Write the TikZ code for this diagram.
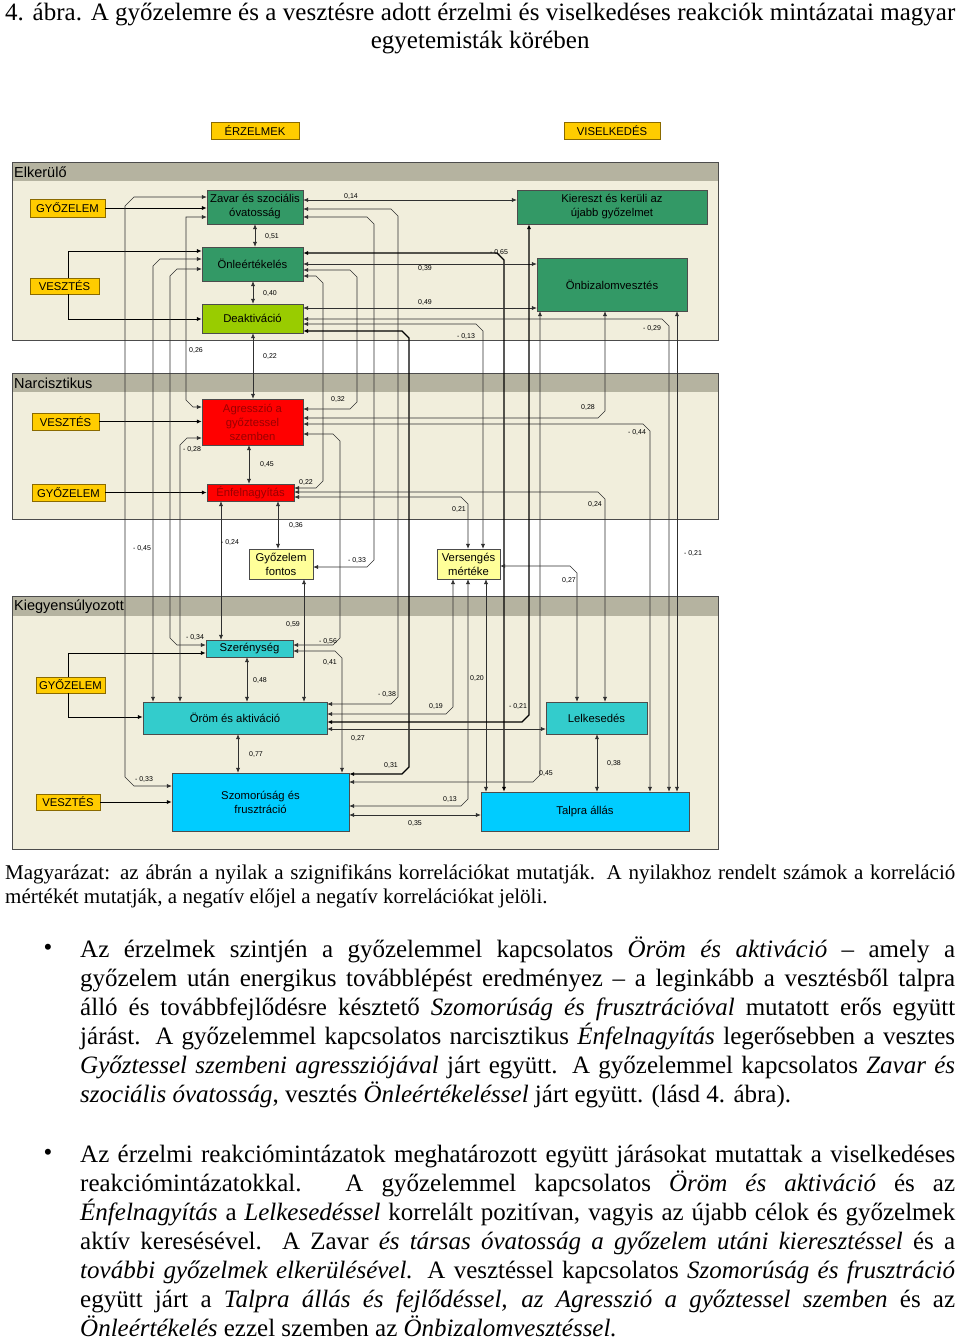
\documentclass[tikz,border=0pt]{standalone}
\usepackage{fontspec}
\setmainfont{Liberation Serif}
\newfontfamily\titlefont{Liberation Serif}
\newfontfamily\pagefont{Liberation Serif}
\newfontfamily\diafont{Liberation Sans}
\usetikzlibrary{arrows.meta,positioning}

\definecolor{panelbg}{HTML}{F1EEDC}
\definecolor{panelhd}{HTML}{B5B3A0}
\definecolor{tagyellow}{HTML}{FFCC00}
\definecolor{tagedge}{HTML}{8A6A00}
\definecolor{darkgreen}{HTML}{339966}
\definecolor{limegreen}{HTML}{99CC00}
\definecolor{alarmred}{HTML}{FF0000}
\definecolor{redtext}{HTML}{9A0000}
\definecolor{paleyellow}{HTML}{FFFF99}
\definecolor{tealbox}{HTML}{33CCCC}
\definecolor{skyblue}{HTML}{00CCFF}
\definecolor{wirecol}{HTML}{303030}

\begin{document}
\begin{tikzpicture}[x=1pt,y=-1pt,
    >={Latex[length=5pt,width=4.2pt]},
    panel/.style={draw=black!70,line width=0.8pt},
    band/.style={fill=panelhd},
    tagbox/.style={draw=tagedge,fill=tagyellow,inner sep=0pt,font=\diafont\fontsize{11.3}{12}\selectfont},
    reaction/.style={draw=black!70,inner sep=0pt,align=center,font=\diafont\fontsize{11.3}{14}\selectfont},
    link/.style={<->,draw=wirecol,line width=0.6pt},
    heavy/.style={<->,draw=black,line width=1.1pt},
    feed/.style={->,draw=black,line width=1pt},
    val/.style={inner sep=0pt,font=\diafont\fontsize{7}{8}\selectfont},
    grouptitle/.style={anchor=west,inner sep=0pt,font=\diafont\fontsize{14.5}{16}\selectfont},
    pagetext/.style={anchor=north west,inner sep=0pt,align=left}
  ]
  \fill[white] (0,0) rectangle (960,1339);
  \useasboundingbox (0,0) rectangle (960,1339);

  % title
  \node[pagetext,font=\titlefont\fontsize{25}{28}\selectfont] (title) at (5,0.7)
    {\makebox[950pt][s]{\rule{0pt}{20pt}4. ábra. A győzelemre és a vesztésre adott érzelmi és viselkedéses reakciók mintázatai magyar}\\
     \makebox[950pt][c]{egyetemisták körében}};

  % column headers
  \node[tagbox,minimum width=88pt,minimum height=17pt] (erz) at (255,130.5) {ÉRZELMEK};
  \node[tagbox,minimum width=96pt,minimum height=17pt] (visel) at (612,130.5) {VISELKEDÉS};

  % group panels
  \fill[panelbg] (12,162) rectangle (718,340);
  \fill[band] (12,162) rectangle (718,181);
  \draw[panel] (12,162) rectangle (718,340);
  \fill[panelbg] (12,373) rectangle (718,519);
  \fill[band] (12,373) rectangle (718,392);
  \draw[panel] (12,373) rectangle (718,519);
  \fill[panelbg] (12,596) rectangle (718,849);
  \fill[band] (12,596) rectangle (718,616);
  \draw[panel] (12,596) rectangle (718,849);
  \node[grouptitle] (elk) at (14,172) {Elkerülő};
  \node[grouptitle] (narc) at (14,383) {Narcisztikus};
  \node[grouptitle] (kiegy) at (14,606.5) {Kiegyensúlyozott};

  % Elkerülő
  \node[tagbox,minimum width=75pt,minimum height=18pt] (gyozA) at (67.5,208) {GYŐZELEM};
  \node[tagbox,minimum width=69pt,minimum height=16pt] (veszA) at (64.5,286) {VESZTÉS};
  \node[reaction,fill=darkgreen,minimum width=96pt,minimum height=34pt] (zavar) at (255,207) {Zavar és szociális\\óvatosság};
  \node[reaction,fill=darkgreen,minimum width=101pt,minimum height=34pt] (onle) at (252.5,264) {Önleértékelés};
  \node[reaction,fill=limegreen,minimum width=101pt,minimum height=29pt] (deakt) at (252.5,318.5) {Deaktiváció};
  \node[reaction,fill=darkgreen,minimum width=190pt,minimum height=34pt] (kiereszt) at (612,207) {Kiereszt és kerüli az\\újabb győzelmet};
  \node[reaction,fill=darkgreen,minimum width=150pt,minimum height=53pt] (onbiz) at (612,284.5) {Önbizalomvesztés};

  % Narcisztikus
  \node[tagbox,minimum width=67pt,minimum height=17pt] (veszB) at (65.5,421.5) {VESZTÉS};
  \node[tagbox,minimum width=73pt,minimum height=17pt] (gyozB) at (68.5,492.5) {GYŐZELEM};
  \node[reaction,fill=alarmred,text=redtext,minimum width=101pt,minimum height=46pt] (agressz) at (252.5,422) {Agresszió a\\győztessel\\szemben};
  \node[reaction,fill=alarmred,text=redtext,minimum width=87pt,minimum height=17pt] (enfel) at (250.5,492.5) {Énfelnagyítás};
  \node[reaction,fill=paleyellow,minimum width=64pt,minimum height=30pt] (gyfontos) at (281,564) {Győzelem\\fontos};
  \node[reaction,fill=paleyellow,minimum width=63pt,minimum height=30pt] (verseng) at (468.5,564) {Versengés\\mértéke};

  % Kiegyensúlyozott
  \node[tagbox,minimum width=69pt,minimum height=16pt] (gyozC) at (70.5,685) {GYŐZELEM};
  \node[tagbox,minimum width=64pt,minimum height=16pt] (veszC) at (68,802) {VESZTÉS};
  \node[reaction,fill=tealbox,minimum width=87pt,minimum height=17pt] (szereny) at (249.5,648.5) {Szerénység};
  \node[reaction,fill=tealbox,minimum width=184pt,minimum height=32pt] (orom) at (235,718) {Öröm és aktiváció};
  \node[reaction,fill=skyblue,minimum width=177pt,minimum height=58pt] (szomor) at (260.5,802) {Szomorúság és\\frusztráció};
  \node[reaction,fill=tealbox,minimum width=101pt,minimum height=32pt] (lelkes) at (596.5,718) {Lelkesedés};
  \node[reaction,fill=skyblue,minimum width=208pt,minimum height=39pt] (talpra) at (585,811.5) {Talpra állás};

  % situation inputs
  \draw[feed] (gyozA.east) -- (zavar.west |- gyozA.east);
  \draw[feed] (veszA.north -| 68,0) -- (68,251) -- (onle.west |- 0,251);
  \draw[feed] (veszA.south -| 68,0) -- (68,319) -- (deakt.west |- 0,319);
  \draw[feed] (veszB.east) -- (agressz.west |- veszB.east);
  \draw[feed] (gyozB.east) -- (enfel.west |- gyozB.east);
  \draw[feed] (gyozC.north -| 68,0) -- (68,653) -- (szereny.west |- 0,653);
  \draw[feed] (gyozC.south -| 68,0) -- (68,717) -- (orom.west |- 0,717);
  \draw[feed] (veszC.east) -- (szomor.west |- veszC.east);

  % correlations from Elkerülő
  \draw[link] (zavar.south -| 255,0) -- (onle.north -| 255,0);
  \draw[link] (onle.south -| 253,0) -- (deakt.north -| 253,0);
  \draw[link] (zavar.east |- 0,200) -- (kiereszt.west |- 0,200);
  \draw[link] (zavar.east |- 0,209) -- (391,209) -- (398,216) -- (398,697) -- (391,704) -- (orom.east |- 0,704);
  \draw[link] (zavar.east |- 0,217) -- (367,217) -- (374,224) -- (374,560) -- (367,567) -- (gyfontos.east |- 0,567);
  \draw[link] (zavar.west |- 0,197) -- (134,197) -- (125,206) -- (125,777) -- (134,786) -- (szomor.west |- 0,786);
  \draw[link] (zavar.west |- 0,217) -- (186,217) -- (186,400) -- (193,407) -- (agressz.west |- 0,407);
  \draw[link] (onle.west |- 0,259) -- (160,259) -- (153,266) -- (orom.north -| 153,0);
  \draw[link] (onle.west |- 0,269) -- (177,269) -- (170,276) -- (170,638) -- (177,645) -- (szereny.west |- 0,645);
  \draw[heavy] (onle.east |- 0,253) -- (497,253) -- (504,260) -- (talpra.north -| 504,0);
  \draw[link] (onle.east |- 0,264) -- (onbiz.west |- 0,264);
  \draw[link] (onle.east |- 0,270) -- (350,270) -- (357,277) -- (357,402) -- (350,409) -- (agressz.east |- 0,409);
  \draw[link] (onle.east |- 0,276) -- (316,276) -- (323,283) -- (323,481) -- (316,488) -- (enfel.east |- 0,488);
  \draw[link] (deakt.east |- 0,308) -- (onbiz.west |- 0,308);
  \draw[link] (deakt.east |- 0,319) -- (662,319) -- (669,326) -- (talpra.north -| 669,0);
  \draw[link] (deakt.east |- 0,324) -- (476,324) -- (483,331) -- (verseng.north -| 483,0);
  \draw[heavy] (deakt.east |- 0,331) -- (402,331) -- (409,338) -- (409,767) -- (402,774) -- (szomor.east |- 0,774);
  \draw[link] (deakt.south -| 253,0) -- (agressz.north -| 253,0);

  % correlations from Narcisztikus
  \draw[link] (agressz.south -| 249,0) -- (enfel.north -| 249,0);
  \draw[link] (agressz.west |- 0,438) -- (187,438) -- (180,445) -- (orom.north -| 180,0);
  \draw[link] (agressz.east |- 0,418) -- (598,418) -- (605,411) -- (onbiz.south -| 605,0);
  \draw[link] (agressz.east |- 0,424) -- (643,424) -- (650,431) -- (talpra.north -| 650,0);
  \draw[link] (agressz.east |- 0,434) -- (333,434) -- (340,441) -- (340,638) -- (333,645) -- (szereny.east |- 0,645);
  \draw[link] (enfel.east |- 0,492) -- (598,492) -- (605,499) -- (lelkes.north -| 605,0);
  \draw[link] (enfel.east |- 0,497) -- (461,497) -- (468,504) -- (verseng.north -| 468,0);
  \draw[link] (enfel.south -| 278,0) -- (gyfontos.north -| 278,0);
  \draw[link] (enfel.south -| 221,0) -- (szereny.north -| 221,0);
  \draw[link] (verseng.east |- 0,566) -- (570,566) -- (577,573) -- (lelkes.north -| 577,0);
  \draw[link] (verseng.south -| 486,0) -- (talpra.north -| 486,0);
  \draw[link] (gyfontos.south -| 304,0) -- (orom.north -| 304,0);

  % correlations from Kiegyensúlyozott
  \draw[link] (szereny.south -| 247,0) -- (orom.north -| 247,0);
  \draw[link] (szereny.east |- 0,651) -- (335,651) -- (342,658) -- (szomor.north -| 342,0);
  \draw[link] (orom.south -| 238,0) -- (szomor.north -| 238,0);
  \draw[link] (orom.east |- 0,714) -- (446,714) -- (453,707) -- (verseng.south -| 453,0);
  \draw[heavy] (orom.east |- 0,722) -- (522,722) -- (529,715) -- (kiereszt.south -| 529,0);
  \draw[link] (orom.east |- 0,729) -- (lelkes.west |- 0,729);
  \draw[link] (szomor.east |- 0,782) -- (533,782) -- (540,775) -- (onbiz.south -| 540,0);
  \draw[link] (szomor.east |- 0,806) -- (461,806) -- (468,799) -- (verseng.south -| 468,0);
  \draw[link] (szomor.east |- 0,815) -- (talpra.west |- 0,815);
  \draw[link] (lelkes.south -| 597,0) -- (talpra.north -| 597,0);
  \draw[link] (onbiz.south -| 677,0) -- (talpra.north -| 677,0);

  % coefficients
  \node[val] (c01) at (351,196) {0,14};
  \node[val] (c02) at (272,236) {0,51};
  \node[val] (c03) at (270,293) {0,40};
  \node[val] (c04) at (499,252) {- 0,65};
  \node[val] (c05) at (425,268) {0,39};
  \node[val] (c06) at (425,302) {0,49};
  \node[val] (c07) at (466,336) {- 0,13};
  \node[val] (c08) at (652,328) {- 0,29};
  \node[val] (c09) at (196,350) {0,26};
  \node[val] (c10) at (270,356) {0,22};
  \node[val] (c11) at (338,399) {0,32};
  \node[val] (c12) at (588,407) {0,28};
  \node[val] (c13) at (637,432) {- 0,44};
  \node[val] (c14) at (192,449) {- 0,28};
  \node[val] (c15) at (267,464) {0,45};
  \node[val] (c16) at (306,482) {0,22};
  \node[val] (c17) at (459,509) {0,21};
  \node[val] (c18) at (595,504) {0,24};
  \node[val] (c19) at (296,525) {0,36};
  \node[val] (c20) at (142,548) {- 0,45};
  \node[val] (c21) at (230,542) {- 0,24};
  \node[val] (c22) at (357,560) {- 0,33};
  \node[val] (c23) at (693,553) {- 0,21};
  \node[val] (c24) at (569,580) {0,27};
  \node[val] (c25) at (293,624) {0,59};
  \node[val] (c26) at (195,637) {- 0,34};
  \node[val] (c27) at (328,641) {- 0,56};
  \node[val] (c28) at (330,662) {0,41};
  \node[val] (c29) at (260,680) {0,48};
  \node[val] (c30) at (387,694) {- 0,38};
  \node[val] (c31) at (436,706) {0,19};
  \node[val] (c32) at (518,706) {- 0,21};
  \node[val] (c33) at (477,678) {0,20};
  \node[val] (c34) at (358,738) {0,27};
  \node[val] (c35) at (256,754) {0,77};
  \node[val] (c36) at (391,765) {0,31};
  \node[val] (c37) at (546,773) {0,45};
  \node[val] (c38) at (614,763) {0,38};
  \node[val] (c39) at (144,779) {- 0,33};
  \node[val] (c40) at (450,799) {0,13};
  \node[val] (c41) at (415,823) {0,35};

  % caption
  \node[pagetext,font=\pagefont\fontsize{21}{24}\selectfont] (caption) at (5,859)
    {\makebox[950pt][s]{\rule{0pt}{20pt}Magyarázat: az ábrán a nyilak a szignifikáns korrelációkat mutatják. A nyilakhoz rendelt számok a korreláció}\\
     \makebox[950pt][l]{mértékét mutatják, a negatív előjel a negatív korrelációkat jelöli.}};

  % bullet points
  \node[inner sep=0pt,font=\pagefont\fontsize{25}{29}\selectfont] (dotA) at (48,950) {•};
  \node[pagetext,font=\pagefont\fontsize{25}{29}\selectfont] (bulA) at (80,933)
    {\makebox[875pt][s]{\rule{0pt}{24pt}Az érzelmek szintjén a győzelemmel kapcsolatos \emph{Öröm és aktiváció} – amely a}\\
     \makebox[875pt][s]{győzelem után energikus továbblépést eredményez – a leginkább a vesztésből talpra}\\
     \makebox[875pt][s]{álló és továbbfejlődésre késztető \emph{Szomorúság és frusztrációval} mutatott erős együtt}\\
     \makebox[875pt][s]{járást. A győzelemmel kapcsolatos narcisztikus \emph{Énfelnagyítás} legerősebben a vesztes}\\
     \makebox[875pt][s]{\emph{Győztessel szembeni agressziójával} járt együtt. A győzelemmel kapcsolatos \emph{Zavar és}}\\
     \makebox[875pt][l]{\emph{szociális óvatosság}, vesztés \emph{Önleértékeléssel} járt együtt. (lásd 4. ábra).}};
  \node[inner sep=0pt,font=\pagefont\fontsize{25}{29}\selectfont] (dotB) at (48,1155) {•};
  \node[pagetext,font=\pagefont\fontsize{25}{29}\selectfont] (bulB) at (80,1138)
    {\makebox[875pt][s]{\rule{0pt}{24pt}Az érzelmi reakciómintázatok meghatározott együtt járásokat mutattak a viselkedéses}\\
     \makebox[875pt][s]{reakciómintázatokkal. A győzelemmel kapcsolatos \emph{Öröm és aktiváció} és az}\\
     \makebox[875pt][s]{\emph{Énfelnagyítás} a \emph{Lelkesedéssel} korrelált pozitívan, vagyis az újabb célok és győzelmek}\\
     \makebox[875pt][s]{aktív keresésével. A Zavar \emph{és társas óvatosság a győzelem utáni kieresztéssel} és a}\\
     \makebox[875pt][s]{\emph{további győzelmek elkerülésével.} A vesztéssel kapcsolatos \emph{Szomorúság és frusztráció}}\\
     \makebox[875pt][s]{együtt járt a \emph{Talpra állás és fejlődéssel, az Agresszió a győztessel szemben} és az}\\
     \makebox[875pt][l]{\emph{Önleértékelés} ezzel szemben az \emph{Önbizalomvesztéssel.}}};
\end{tikzpicture}
\end{document}
